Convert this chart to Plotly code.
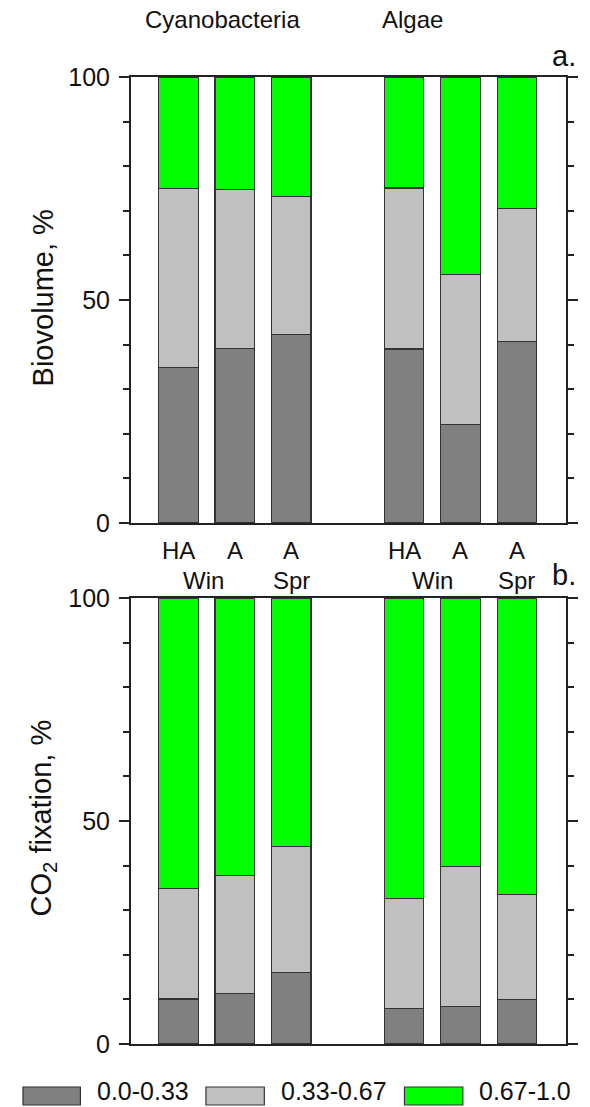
import plotly.graph_objects as go

# ---- data ----
positions = [0, 1, 2, 4, 5, 6]
row1 = ["HA", "A", "A", "HA", "A", "A"]
groups = ["Cyanobacteria", "Algae"]
series = ["0.0-0.33", "0.33-0.67", "0.67-1.0"]

bio_low = [34.9, 39.2, 42.2, 39.0, 22.0, 40.7]
bio_mid = [40.1, 35.5, 31.0, 36.1, 33.8, 29.9]
bio_high = [25.0, 25.3, 26.8, 24.9, 44.2, 29.4]

co2_low = [10.1, 11.4, 16.1, 7.9, 8.4, 10.0]
co2_mid = [24.7, 26.3, 28.1, 24.8, 31.4, 23.6]
co2_high = [65.2, 62.3, 55.8, 67.3, 60.2, 66.4]

colors = ["#808080", "#c0c0c0", "#00ff00"]
FONT = "Liberation Sans, Arial, sans-serif"

W, H = 590, 1107
L, R, T, B = 131, 578, 77, 1044


def px(x):
    return (x - L) / (R - L)


def py(y):
    return (B - y) / (B - T)


fig = go.Figure()
for vals, col, name in zip([bio_low, bio_mid, bio_high], colors, series):
    fig.add_trace(go.Bar(x=positions, y=vals, width=0.7, name=name,
                         marker=dict(color=col, line=dict(color="#333333", width=1.2)),
                         xaxis="x", yaxis="y", showlegend=False))
for vals, col, name in zip([co2_low, co2_mid, co2_high], colors, series):
    fig.add_trace(go.Bar(x=positions, y=vals, width=0.7, name=name,
                         marker=dict(color=col, line=dict(color="#333333", width=1.2)),
                         xaxis="x2", yaxis="y2", showlegend=False))

ya_dom = [py(523), 1.0]
yb_dom = [0.0, py(598)]

axis_y = dict(range=[0, 100], tickvals=[0, 50, 100], ticks="outside", ticklen=10,
              tickwidth=1.5, tickcolor="#222", showline=True, linecolor="#222",
              linewidth=2, mirror="ticks", showgrid=False, zeroline=False,
              tickfont=dict(family=FONT, size=25, color="#111"),
              ticklabelstandoff=4,
              minor=dict(dtick=10, ticks="outside", ticklen=6, tickwidth=1.5,
                         tickcolor="#222", showgrid=False))
axis_x = dict(range=[-0.84, 6.87], showline=True, linecolor="#222", linewidth=2,
              mirror=True, ticks="", showticklabels=False, showgrid=False,
              zeroline=False)

fig.update_layout(
    width=W, height=H, barmode="stack",
    margin=dict(l=L, r=W - R, t=T, b=H - B),
    plot_bgcolor="white", paper_bgcolor="white",
    font=dict(family=FONT, size=24, color="#111"),
    xaxis=dict(axis_x, anchor="y"),
    yaxis=dict(axis_y, domain=ya_dom, anchor="x"),
    xaxis2=dict(axis_x, anchor="y2"),
    yaxis2=dict(axis_y, domain=yb_dom, anchor="x2"),
)


def add_text(x, y, text, size=24, xref="paper", xanchor="center", yanchor="middle",
             textangle=0):
    fig.add_annotation(x=x, y=y, xref=xref, yref="paper", text=text, showarrow=False,
                       xanchor=xanchor, yanchor=yanchor, textangle=textangle,
                       font=dict(family=FONT, size=size, color="#111"))


# group titles
add_text(px(225), py(20), groups[0], size=24)
add_text(px(420), py(20), groups[1], size=24)
# panel letters
add_text(px(590), py(56), "a.", size=29, xanchor="right")
add_text(px(590), py(575), "b.", size=29, xanchor="right")
# y titles
add_text(px(41), py(298), "Biovolume, %", size=29, textangle=-90)
add_text(px(41), py(818), "CO<sub>2</sub> fixation, %", size=29, textangle=-90)

# x category labels (first row from data, second row season)
for p, lab in zip(positions, row1):
    add_text(p, py(566), lab, size=24, xref="x", yanchor="bottom")
for xx, lab in [(0.45, "Win"), (2, "Spr"), (4.5, "Win"), (6, "Spr")]:
    add_text(xx, py(565), lab, size=24, xref="x", yanchor="top")

# legend drawn manually
leg_boxes = [(20, 79), (208, 268), (412, 472)]
leg_text_x = [94, 283, 487]
for (x0, x1), tx, col, name in zip(leg_boxes, leg_text_x, colors, series):
    fig.add_shape(type="rect", xref="paper", yref="paper",
                  x0=px(x0), x1=px(x1), y0=py(1105), y1=py(1087),
                  fillcolor=col, line=dict(color="#333333", width=1.2))
    add_text(px(tx), py(1107), name, size=25, xanchor="left", yanchor="bottom")

fig.write_html("out.html")
